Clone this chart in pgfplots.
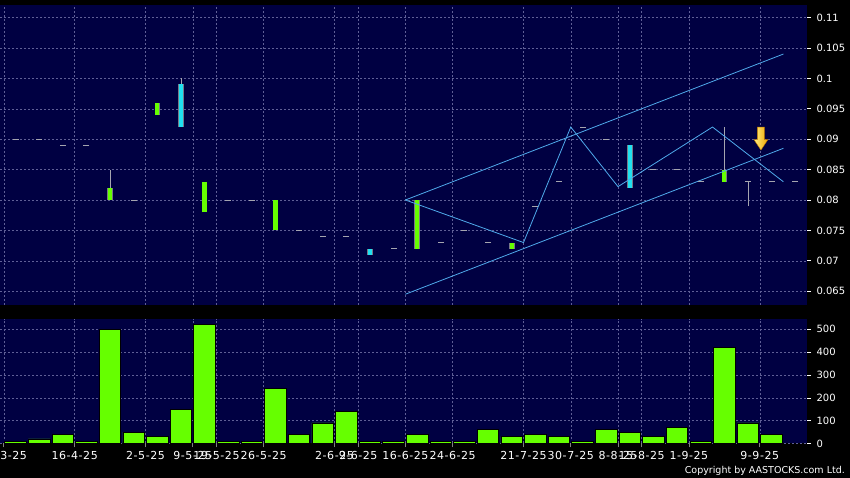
\documentclass[border=0pt]{standalone}
\usepackage{fontspec}
\setmainfont{DejaVu Sans}
\usepackage{pgfplots}
\pgfplotsset{compat=1.18}
\usepackage{pgfplotstable}
\usetikzlibrary{plotmarks}
\definecolor{navy}{RGB}{0,0,66}
\definecolor{gridc}{RGB}{95,95,150}
\definecolor{limec}{RGB}{102,255,0}
\definecolor{cyanc}{RGB}{32,224,240}
\definecolor{outc}{RGB}{120,120,135}
\definecolor{wickc}{RGB}{165,165,175}
\definecolor{trendc}{RGB}{80,170,235}
\definecolor{arrowl}{RGB}{255,238,130}
\definecolor{arrowr}{RGB}{238,165,0}
\definecolor{arrowo}{RGB}{190,120,0}

% volume per session
\pgfplotstableread{
x vol
0 10
1 20
2 40
3 10
4 500
5 50
6 30
7 150
8 520
9 10
10 10
11 240
12 40
13 90
14 140
15 10
16 10
17 40
18 10
19 10
20 60
21 30
22 40
23 30
24 10
25 60
26 50
27 30
28 70
29 10
30 420
31 90
32 40
}\voltable

% lime bodies
\pgfplotstableread{
x lo hi
4 0.080 0.082
6 0.094 0.096
8 0.078 0.083
11 0.075 0.080
17 0.072 0.080
21 0.072 0.073
30 0.083 0.085
}\limetable

% cyan bodies
\pgfplotstableread{
x lo hi
7 0.092 0.099
15 0.071 0.072
26 0.082 0.089
}\cyantable

% wicks
\pgfplotstableread{
x lo hi
4 0.082 0.085
7 0.099 0.100
30 0.085 0.092
31 0.079 0.083
}\wicktable

% sessions with open = close
\pgfplotstableread{
x p
0 0.090
1 0.090
2 0.089
3 0.089
5 0.080
9 0.080
10 0.080
12 0.075
13 0.074
14 0.074
16 0.072
18 0.073
19 0.075
20 0.073
22 0.079
23 0.083
24 0.092
25 0.090
27 0.085
28 0.085
29 0.083
31 0.083
32 0.083
33 0.083
}\dashtable

\pgfplotsset{
  chart/.style={
    scale only axis,
    anchor=south west,
    width=807pt,
    xmin=-0.66, xmax=33.5,
    axis background/.style={fill=navy},
    axis line style={draw=none},
    grid=major,
    major grid style={dash pattern=on 2pt off 2pt, color=gridc, line width=0.5pt},
    xtick={-0.5,2.5,5.5,7.5,8.5,10.5,13.5,14.5,16.5,18.5,21.5,23.5,25.5,26.5,28.5,31.5},
    xtick pos=bottom,
    ytick pos=right,
    yticklabel pos=right,
    tick align=outside,
    ytick style={white, line width=0.6pt},
    major tick length=4pt,
    yticklabel style={font=\fontsize{10}{12}\selectfont, text=white, anchor=west, xshift=2pt},
    /pgf/number format/assume math mode=true,
    scaled y ticks=false,
  },
  body/.style={draw=none, mark=none, forget plot,
    error bars/.cd, y dir=plus, y explicit, error mark=none,
    error bar style={draw=#1, line width=4.2pt}},
  bodyout/.style={draw=none, mark=none, forget plot,
    error bars/.cd, y dir=plus, y explicit, error mark=none,
    error bar style={draw=outc, line width=5.6pt}},
}

\begin{document}
\raisebox{0pt}[478pt][0pt]{%
\begin{tikzpicture}[trim left=0pt, trim right=850pt, baseline=0pt]
\fill[black] (0pt,0pt) rectangle (850pt,478pt);

% price panel
\begin{axis}[chart,
  at={(0pt,173pt)}, height=300pt,
  ymin=0.06273, ymax=0.11207,
  ytick={0.065,0.07,0.075,0.08,0.085,0.09,0.095,0.1,0.105,0.11},
  yticklabel style={/pgf/number format/.cd, fixed, precision=3},
  xticklabels={},
  xtick style={draw=none},
]
% wicks
\addplot[draw=none, mark=none, forget plot,
  error bars/.cd, y dir=plus, y explicit, error mark=none,
  error bar style={draw=wickc, line width=0.7pt}]
  table[x=x, y=lo, y error plus expr=\thisrow{hi}-\thisrow{lo}] {\wicktable};
% open = close sessions
\addplot[only marks, mark=-, mark size=3pt, mark options={draw=wickc, line width=0.8pt}]
  table[x=x, y=p] {\dashtable};
% lime bodies
\addplot[bodyout] table[x=x, y=lo, y error plus expr=\thisrow{hi}-\thisrow{lo}] {\limetable};
\addplot[body=limec] table[x=x, y=lo, y error plus expr=\thisrow{hi}-\thisrow{lo}] {\limetable};
% cyan bodies
\addplot[bodyout] table[x=x, y=lo, y error plus expr=\thisrow{hi}-\thisrow{lo}] {\cyantable};
\addplot[body=cyanc] table[x=x, y=lo, y error plus expr=\thisrow{hi}-\thisrow{lo}] {\cyantable};
% trend channel
\addplot[trendc, line width=0.8pt, mark=none] coordinates {(16.5,0.080) (32.5,0.104)};
\addplot[trendc, line width=0.8pt, mark=none] coordinates {(16.5,0.0645) (32.5,0.0885)};
\addplot[trendc, line width=0.8pt, mark=none] coordinates {(16.5,0.080) (21.5,0.073) (23.5,0.092) (25.5,0.0822) (29.5,0.092) (32.5,0.083)};
% arrow
\node[inner sep=0pt] at (axis cs:31.55,0.0901) {\tikz{\shade[left color=arrowl, right color=arrowr, draw=arrowo, line width=0.4pt]
  (-3.5pt,11.5pt) -- (3.5pt,11.5pt) -- (3.5pt,-1pt) -- (7pt,-1pt) -- (0pt,-11.5pt) -- (-7pt,-1pt) -- (-3.5pt,-1pt) -- cycle;}};
\end{axis}

% volume panel
\begin{axis}[chart,
  at={(0pt,34.5pt)}, height=124.5pt,
  ymin=0, ymax=545,
  ytick={0,100,200,300,400,500},
  xticklabels={31-3-25,16-4-25,2-5-25,9-5-25,19-5-25,26-5-25,2-6-25,9-6-25,16-6-25,24-6-25,21-7-25,30-7-25,8-8-25,15-8-25,1-9-25,9-9-25},
  xticklabel style={font=\fontsize{11}{13}\selectfont\addfontfeatures{LetterSpace=5}, text=white},
  xtick style={draw=gray, line width=0.6pt},
]
\addplot[ybar, bar width=21.5pt, fill=limec, draw=black, line width=0.8pt]
  table[x=x, y=vol] {\voltable};
\end{axis}

\node[anchor=east, text=white, font=\fontsize{9.5}{11}\selectfont, inner sep=0pt] at (845pt,7pt) {Copyright by AASTOCKS.com Ltd.};
\end{tikzpicture}}
\end{document}
